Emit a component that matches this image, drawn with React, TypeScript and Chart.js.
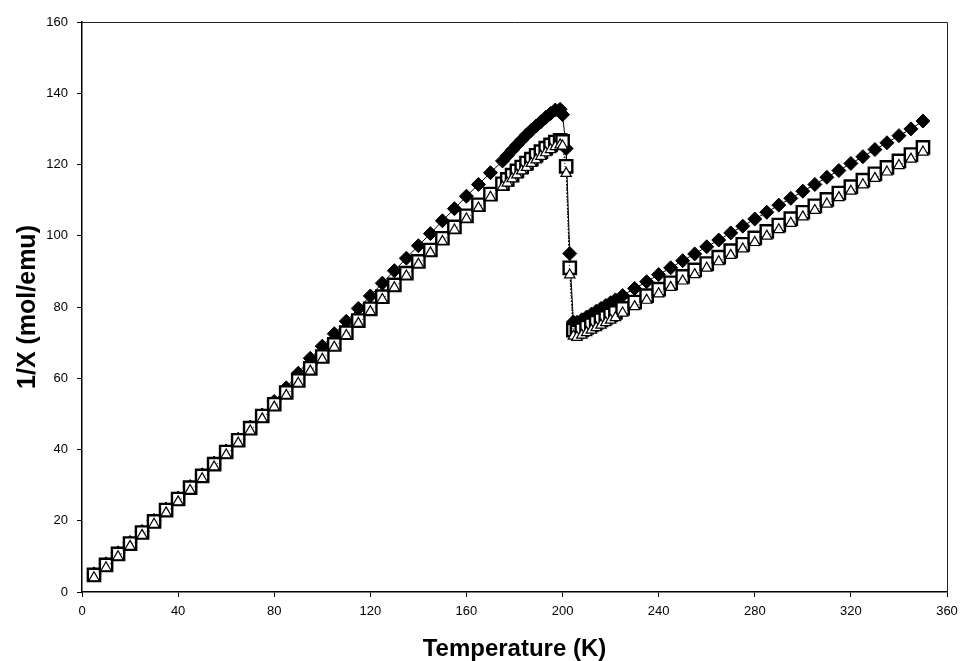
import React, { useEffect, useRef } from "react";
import { Chart, registerables } from "chart.js";

Chart.register(...registerables);

// Temperature (K)
const temps: number[] = [
  5, 10, 15, 20, 25, 30, 35, 40, 45, 50, 55, 60, 65, 70, 75, 80, 85, 90, 95, 100,
  105, 110, 115, 120, 125, 130, 135, 140, 145, 150, 155, 160, 165, 170, 175,
  177, 179, 181, 183, 185, 187, 189, 191, 193, 195, 197, 199,
  200, 201.5, 203, 204.5,
  206, 208, 210, 212, 214, 216, 218, 220, 222,
  225, 230, 235, 240, 245, 250, 255, 260, 265, 270, 275, 280, 285, 290, 295, 300,
  305, 310, 315, 320, 325, 330, 335, 340, 345, 350,
];

// filled diamonds
const diamondValues: number[] = [
  5.1, 7.9, 11.0, 13.9, 17.0, 20.1, 23.3, 26.4, 29.6, 32.9, 36.2, 39.6, 42.9, 46.3, 49.7, 53.5, 57.3, 61.4, 65.6, 69.0,
  72.5, 76.0, 79.6, 83.1, 86.7, 90.2, 93.7, 97.2, 100.6, 104.2, 107.6, 111.1, 114.4, 117.7, 121.0,
  122.5, 124.0, 125.5, 126.9, 128.3, 129.6, 130.8, 132.0, 133.2, 134.3, 135.3, 135.5,
  134.0, 124.5, 95.0, 75.8,
  75.7, 76.4, 77.2, 78.0, 78.8, 79.6, 80.4, 81.2, 82.0,
  83.2, 85.2, 87.1, 89.1, 91.0, 93.0, 94.9, 96.9, 98.8, 100.8, 102.7, 104.7, 106.6, 108.6, 110.5, 112.5,
  114.4, 116.4, 118.3, 120.3, 122.2, 124.2, 126.1, 128.1, 130.0, 132.2,
];

// open squares
const squareValues: number[] = [
  4.8, 7.6, 10.7, 13.6, 16.7, 19.8, 23.0, 26.1, 29.3, 32.6, 35.9, 39.3, 42.6, 46.0, 49.4, 52.7, 56.0, 59.4, 62.8, 66.1,
  69.5, 72.8, 76.2, 79.5, 82.9, 86.2, 89.5, 92.8, 96.0, 99.3, 102.5, 105.6, 108.7, 111.7, 114.6,
  115.8, 117.0, 118.2, 119.3, 120.4, 121.5, 122.6, 123.6, 124.6, 125.5, 126.3, 126.8,
  126.5, 119.5, 91.0, 73.5,
  73.0, 73.6, 74.3, 75.0, 75.7, 76.4, 77.1, 77.8, 78.5,
  79.6, 81.4, 83.2, 85.0, 86.8, 88.6, 90.4, 92.2, 94.0, 95.8, 97.6, 99.4, 101.2, 103.0, 104.8, 106.6,
  108.4, 110.2, 112.0, 113.8, 115.6, 117.4, 119.2, 121.0, 122.8, 124.8,
];

// open triangles
const triangleValues: number[] = [
  4.0, 6.8, 9.9, 12.8, 15.9, 19.0, 22.2, 25.3, 28.5, 31.8, 35.1, 38.5, 41.8, 45.2, 48.6, 51.9, 55.2, 58.6, 62.0, 65.3,
  68.7, 72.0, 75.4, 78.7, 82.1, 85.4, 88.7, 92.0, 95.2, 98.4, 101.6, 104.7, 107.8, 110.8, 113.7,
  114.8, 116.0, 117.1, 118.2, 119.2, 120.3, 121.3, 122.3, 123.3, 124.2, 125.0, 125.5,
  125.2, 117.5, 89.0, 71.8,
  71.5, 72.1, 72.8, 73.5, 74.2, 74.9, 75.6, 76.3, 77.0,
  78.3, 80.1, 81.9, 83.7, 85.5, 87.3, 89.1, 90.9, 92.7, 94.5, 96.3, 98.1, 99.9, 101.7, 103.5, 105.3,
  107.1, 108.9, 110.7, 112.5, 114.3, 116.1, 117.9, 119.7, 121.5, 123.5,
];

const xTicks: number[] = [0, 40, 80, 120, 160, 200, 240, 280, 320, 360];
const yTicks: number[] = [0, 20, 40, 60, 80, 100, 120, 140, 160];

const xTitle = "Temperature (K)";
const yTitle = "1/X (mol/emu)";

const toPoints = (vals: number[]) => vals.map((v, i) => ({ x: temps[i], y: v }));

const frame = {
  id: "frame",
  afterDraw(chart: any) {
    const { ctx, chartArea } = chart;
    ctx.save();
    ctx.strokeStyle = "#222";
    ctx.lineWidth = 1;
    ctx.beginPath();
    ctx.moveTo(chartArea.left, chartArea.top + 0.5);
    ctx.lineTo(chartArea.right + 0.5, chartArea.top + 0.5);
    ctx.lineTo(chartArea.right + 0.5, chartArea.bottom);
    ctx.stroke();
    ctx.restore();
  },
};

export default function App() {
  const ref = useRef<HTMLCanvasElement | null>(null);

  useEffect(() => {
    if (!ref.current) return;
    const font = "'Liberation Sans', Arial, sans-serif";
    const chart = new Chart(ref.current, {
      type: "line",
      data: {
        datasets: [
          {
            label: "triangles",
            data: toPoints(triangleValues),
            order: 1,
            borderColor: "#000",
            borderWidth: 1,
            borderDash: [1, 2],
            pointStyle: "triangle",
            pointRadius: 6,
            pointBackgroundColor: "#fff",
            pointBorderColor: "#000",
            pointBorderWidth: 1.2,
            showLine: true,
            fill: false,
          },
          {
            label: "squares",
            data: toPoints(squareValues),
            order: 2,
            borderColor: "#000",
            borderWidth: 1,
            borderDash: [2, 2],
            pointStyle: "rect",
            pointRadius: 8.7,
            pointBackgroundColor: "#fff",
            pointBorderColor: "#000",
            pointBorderWidth: 2.4,
            showLine: true,
            fill: false,
          },
          {
            label: "diamonds",
            data: toPoints(diamondValues),
            order: 3,
            borderColor: "#000",
            borderWidth: 1,
            pointStyle: "rectRot",
            pointRadius: 7,
            pointBackgroundColor: "#000",
            pointBorderColor: "#000",
            pointBorderWidth: 1,
            showLine: true,
            fill: false,
          },
        ],
      },
      options: {
        responsive: false,
        animation: false,
        layout: { padding: { left: 0, right: 13, top: 22, bottom: 0 } },
        plugins: {
          legend: { display: false },
          tooltip: { enabled: false },
        },
        scales: {
          x: {
            type: "linear",
            min: 0,
            max: 360,
            afterBuildTicks: (scale: any) => {
              scale.ticks = xTicks.map((v) => ({ value: v }));
            },
            afterFit: (scale: any) => {
              scale.height = 69;
              scale.paddingRight = 0;
              scale.paddingLeft = 0;
            },
            ticks: {
              color: "#000",
              font: { family: font, size: 13 },
              padding: 7,
              maxRotation: 0,
              autoSkip: false,
            },
            grid: {
              drawOnChartArea: false,
              drawTicks: true,
              tickLength: 5,
              color: "#000",
            },
            border: { color: "#000", width: 1.5 },
            title: {
              display: true,
              text: xTitle,
              color: "#000",
              font: { family: font, size: 24, weight: "bold" },
              padding: { top: 0, bottom: -3 },
            },
          },
          y: {
            type: "linear",
            min: 0,
            max: 160,
            afterBuildTicks: (scale: any) => {
              scale.ticks = yTicks.map((v) => ({ value: v }));
            },
            afterFit: (scale: any) => {
              scale.width = 82;
              scale.paddingTop = 0;
              scale.paddingBottom = 0;
            },
            ticks: {
              color: "#000",
              font: { family: font, size: 13 },
              padding: 9,
              autoSkip: false,
            },
            grid: {
              drawOnChartArea: false,
              drawTicks: true,
              tickLength: 5,
              color: "#000",
            },
            border: { color: "#000", width: 1.5 },
            title: {
              display: true,
              text: yTitle,
              color: "#000",
              font: { family: font, size: 25, weight: "bold" },
              padding: { top: 13, bottom: 13 },
            },
          },
        },
      },
      plugins: [frame],
    });
    return () => chart.destroy();
  }, []);

  return (
    <div style={{ position: "absolute", left: 0, top: 0, width: 960, height: 661, background: "#fff" }}>
      <canvas ref={ref} width={960} height={661} style={{ display: "block", width: 960, height: 661 }} />
    </div>
  );
}
